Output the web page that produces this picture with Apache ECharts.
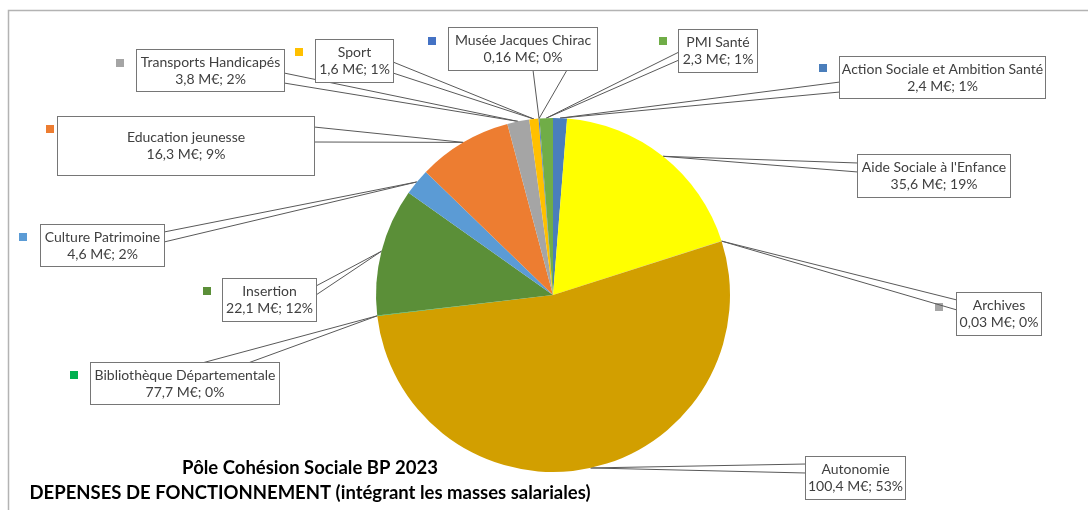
<!DOCTYPE html>
<html>
<head>
<meta charset="utf-8">
<title>Pôle Cohésion Sociale BP 2023</title>
<script src="https://cdn.jsdelivr.net/npm/echarts@6/dist/echarts.min.js"></script>
<style>
  html, body { margin: 0; padding: 0; background: #fff; }
  #chart { width: 1088px; height: 510px; }
</style>
</head>
<body>
<div id="chart"></div>
<script>
// slices, clockwise from 12 o'clock
var names = [
  'Action Sociale et Ambition Santé',
  "Aide Sociale à l'Enfance",
  'Archives',
  'Autonomie',
  'Bibliothèque Départementale',
  'Insertion',
  'Culture Patrimoine',
  'Education jeunesse',
  'Transports Handicapés',
  'Sport',
  'Musée Jacques Chirac',
  'PMI Santé'
]
// M€
var values = [2.4, 35.6, 0.03, 100.4, 0.0777, 22.1, 4.6, 16.3, 3.8, 1.6, 0.16, 2.3]
// amounts as printed in the labels
var valueLabels = ['2,4', '35,6', '0,03', '100,4', '77,7', '22,1', '4,6', '16,3', '3,8', '1,6', '0,16', '2,3']
var colors = ['#4a7ebb', '#ffff00', '#a5a5a5', '#d29f00', '#00b050', '#5b8f38',
  '#5b9bd5', '#ed7d31', '#a5a5a5', '#ffc000', '#4472c4', '#70ad47']

// callout boxes: x, y, width, height
var labelBoxes = [
  [840, 57, 205, 41], [858, 155, 152, 42], [957, 293, 84, 42], [806, 457, 99, 42],
  [91, 363, 188, 41], [223, 279, 93, 42], [41, 225, 123, 41], [58, 117, 256, 58],
  [137, 50, 147, 41], [316, 40, 77, 42], [449, 28, 148, 42], [679, 30, 78, 42]
]
// legend key squares next to the boxes (null = hidden)
var keyPos = [
  [819, 64], null, [935, 303], null,
  [70, 371], [203, 287], [19, 233], [46, 125],
  [116, 59], [295, 48], [428, 37], [659, 37]
]
// callout pointer: box side + the two offsets where the wedge meets it
var wedges = [
  ['left', 25, 35], ['left', 8, 17], ['left', 7, 17], ['left', 7, 16],
  ['top', 111, 157], ['right', 7, 16], ['right', 7, 17], ['right', 10, 25],
  ['right', 23, 33], ['right', 22, 33], ['bottom', 84, 118], ['left', 22, 30]
]

var chart = echarts.init(document.getElementById('chart'))

function edgePoint(box, side, off) {
  if (side === 'left') return [box[0], box[1] + off]
  if (side === 'right') return [box[0] + box[2], box[1] + off]
  if (side === 'top') return [box[0] + off, box[1]]
  return [box[0] + off, box[1] + box[3]]
}

// place the label on its box and draw one side of the wedge
function makeLayout(k) {
  return function (params) {
    var i = params.dataIndex
    var b = labelBoxes[i]
    var w = wedges[i]
    var pts = params.labelLinePoints
    var tip = pts ? pts[0] : [params.rect.x + params.rect.width / 2, params.rect.y + params.rect.height / 2]
    return {
      x: b[0] + b[2] / 2,
      y: b[1] + b[3] / 2,
      align: 'center',
      verticalAlign: 'middle',
      labelLinePoints: [tip, tip, edgePoint(b, w[0], w[k])]
    }
  }
}

function labelText(p) {
  return p.name + '\n' + valueLabels[p.dataIndex] + ' M€; ' + Math.round(p.percent) + '%'
}

var keys = []
keyPos.forEach(function (k, i) {
  if (!k) return
  keys.push({
    type: 'rect',
    shape: { x: k[0], y: k[1], width: 8, height: 8 },
    style: { fill: colors[i] },
    silent: true
  })
})

var pieBase = {
  type: 'pie',
  center: [553, 295],
  radius: 177,
  startAngle: 90,
  clockwise: true,
  avoidLabelOverlap: false,
  silent: true,
  animation: false,
  emphasis: { disabled: true }
}

var option = {
  backgroundColor: '#fff',
  title: {
    text: 'Pôle Cohésion Sociale BP 2023\nDEPENSES DE FONCTIONNEMENT (intégrant les masses salariales)',
    left: 305,
    top: 451,
    textAlign: 'center',
    textVerticalAlign: 'top',
    textStyle: {
      fontFamily: 'Lato',
      fontWeight: 'bold',
      fontSize: 18.5,
      lineHeight: 25,
      color: '#000'
    }
  },
  graphic: [{
    type: 'rect',
    shape: { x: 8.5, y: 10.5, width: 1200, height: 600 },
    style: { fill: 'none', stroke: '#b3b3b3', lineWidth: 1.5 },
    silent: true
  }].concat(keys),
  series: [
    Object.assign({}, pieBase, {
      z: 1,
      data: names.map(function (n, i) {
        return { name: n, value: values[i], itemStyle: { color: 'rgba(0,0,0,0)' } }
      }),
      label: { formatter: labelText, color: 'rgba(0,0,0,0)', fontFamily: 'Lato', fontSize: 14, lineHeight: 17 },
      labelLine: { show: true, lineStyle: { color: '#595959', width: 1 } },
      labelLayout: makeLayout(1)
    }),
    Object.assign({}, pieBase, {
      z: 2,
      data: names.map(function (n, i) {
        return {
          name: n,
          value: values[i],
          itemStyle: { color: colors[i] },
          label: { width: labelBoxes[i][2], height: labelBoxes[i][3] }
        }
      }),
      itemStyle: { borderWidth: 0 },
      label: {
        formatter: labelText,
        fontFamily: 'Lato',
        fontSize: 14,
        lineHeight: 17,
        color: '#404040',
        backgroundColor: '#fff',
        borderColor: '#767676',
        borderWidth: 1,
        padding: 0
      },
      labelLine: { show: true, lineStyle: { color: '#595959', width: 1 } },
      labelLayout: makeLayout(2)
    })
  ]
}

chart.setOption(option)
</script>
</body>
</html>
